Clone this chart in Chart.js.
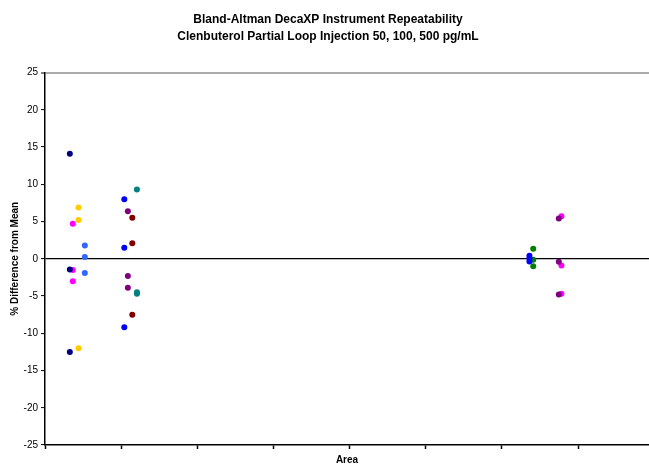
<!DOCTYPE html>
<html>
<head>
<meta charset="utf-8">
<script src="https://cdn.jsdelivr.net/npm/chart.js@4/dist/chart.umd.min.js"></script>
<style>
  body { margin: 0; background: #fff; }
</style>
</head>
<body>
<canvas id="myChart" width="649" height="466"></canvas>
<script>
// x position of each group (in tick units of the Area axis) and its % differences
const groupArea = [0.326, 0.44, 0.365, 0.523, 1.041, 1.088, 1.146, 1.207, 6.36, 6.41, 6.746, 6.78];
const groupDiff = [
    [14.1, -1.45, -12.5],
    [6.9, 5.2, -12.0],
    [4.7, -1.5, -3.0],
    [1.8, 0.25, -1.9],
    [8.0, 1.5, -9.2],
    [6.4, -2.3, -3.9],
    [5.5, 2.1, -7.5],
    [9.3, -4.5, -4.7],
    [0.4, 0.05, -0.35],
    [1.35, -0.13, -1.0],
    [5.4, -0.4, -4.8],
    [5.7, -0.9, -4.7]
];
const groupNames = ['S1', 'S2', 'S3', 'S4', 'S5', 'S6', 'S7', 'S8', 'S9', 'S10', 'S11', 'S12'];
const yTicks = [-25, -20, -15, -10, -5, 0, 5, 10, 15, 20, 25];

const colors = ['#000080', '#FFCC00', '#FF00FF', '#3366FF', '#0000FF', '#800080',
                '#800000', '#008080', '#0000FF', '#008000', '#800080', '#FF00FF'];

const datasets = groupNames.map((name, i) => ({
    label: name,
    data: groupDiff[i].map(v => ({ x: groupArea[i], y: v })),
    backgroundColor: colors[i],
    borderColor: colors[i],
    borderWidth: 0,
    pointRadius: 3,
    pointHoverRadius: 3
}));

const ctx = document.getElementById('myChart').getContext('2d');
new Chart(ctx, {
    type: 'scatter',
    data: { datasets: datasets },
    options: {
        responsive: false,
        animation: false,
        layout: { autoPadding: false, padding: { left: 7, right: 0, top: 0, bottom: 0 } },
        plugins: {
            legend: { display: false },
            tooltip: { enabled: false },
            title: {
                display: true,
                text: ['Bland-Altman DecaXP Instrument Repeatability',
                       'Clenbuterol Partial Loop Injection 50, 100, 500 pg/mL'],
                color: '#000',
                font: { family: 'Arial, Liberation Sans', size: 12, weight: 'bold', lineHeight: 1.4 },
                padding: { top: 11, bottom: 28 }
            }
        },
        scales: {
            x: {
                type: 'linear',
                min: 0,
                max: 7.93,
                border: { color: '#000', width: 1.5 },
                grid: {
                    drawOnChartArea: false,
                    tickColor: '#000',
                    tickLength: 4,
                    tickWidth: 1.5
                },
                ticks: { stepSize: 1, display: false, includeBounds: false },
                title: {
                    display: true,
                    text: 'Area',
                    color: '#000',
                    font: { family: 'Arial, Liberation Sans', size: 10, weight: 'bold' },
                    padding: { top: 0, bottom: 0 }
                },
                afterFit: s => { s.height = 21; }
            },
            y: {
                min: -25,
                max: 25,
                afterBuildTicks: s => { s.ticks = yTicks.map(v => ({ value: v })); },
                border: { color: '#000', width: 1.5 },
                grid: {
                    color: c => c.tick.value === 0 ? '#000' : (c.tick.value === 25 ? '#aaa' : 'rgba(0,0,0,0)'),
                    lineWidth: c => c.tick.value === 25 ? 2 : 1.2,
                    tickColor: '#000',
                    tickLength: 4,
                    tickWidth: 1
                },
                ticks: {
                    color: '#000',
                    padding: 3,
                    font: { family: 'Arial, Liberation Sans', size: 10 }
                },
                title: {
                    display: true,
                    text: '% Difference from Mean',
                    color: '#000',
                    font: { family: 'Arial, Liberation Sans', size: 10, weight: 'bold' },
                    padding: { top: 2, bottom: 0 }
                },
                afterFit: s => { s.width = 38; }
            }
        }
    }
});
</script>
</body>
</html>
